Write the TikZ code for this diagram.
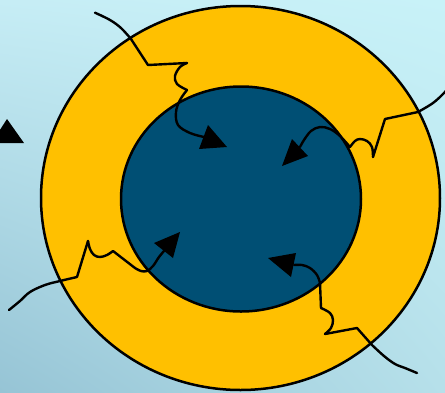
\documentclass[tikz,border=0pt]{standalone}
\usetikzlibrary{calc,shadings}
\definecolor{bgTL}{RGB}{198,237,245}
\definecolor{bgTR}{RGB}{200,242,248}
\definecolor{bgBL}{RGB}{150,196,213}
\definecolor{bgBR}{RGB}{182,224,234}
\definecolor{ringorange}{RGB}{255,192,0}
\definecolor{coreblue}{RGB}{0,79,116}
\tikzset{
  wavy/.style={line width=2.4pt, line join=round, line cap=round},
  tip/.style={fill=black, draw=none},
  rim/.style={draw=black, line width=2.5pt}
}
\begin{document}
\begin{tikzpicture}[x=1pt,y=-1pt]
\useasboundingbox (0,0) rectangle (445,392);
\shade[upper left=bgTL, upper right=bgTR, lower left=bgBL, lower right=bgBR] (0,0) rectangle (445,392);
\begin{scope}
\clip (0,0) rectangle (445,392);
% left triangle (partly cut)
\fill[black] (-8.5,143) -- (7,119) -- (24,143) -- cycle;
% rings
\path[rim, fill=ringorange] (240.5,198) ellipse [x radius=199.5pt, y radius=192pt];
\path[rim, fill=coreblue] (241,199) ellipse [x radius=120pt, y radius=112.5pt];
% line 1 (top-left)
\draw[wavy] plot[smooth, tension=0.6] coordinates {(95,12.7) (110,20) (121,28) (131,39)} -- (148,65) -- (187,63);
\draw[wavy] plot[smooth, tension=0.6] coordinates {(187,63) (180,67) (175,76) (177,84) (187,90)};
\draw[wavy] plot[smooth, tension=0.6] coordinates {(187,90) (180,100) (176,112) (178,125) (190,133) (204,137)};
\fill[tip] (227,147) -- (199,149) -- (208,125) -- cycle;
% line 2 (top-right)
\draw[wavy] plot[smooth, tension=0.6] coordinates {(448,88) (444,93) (433,103) (418,112)} -- (385,119) -- (373,157);
\draw[wavy] plot[smooth, tension=0.6] coordinates {(373,157) (372,147) (367,141) (360,139) (355,141) (350,147)};
\draw[wavy] plot[smooth, tension=0.6] coordinates {(350,147) (340,136) (330,129) (320,127) (311,131) (304,140) (300,147)};
\fill[tip] (282,166) -- (308,156) -- (292,139) -- cycle;
% line 3 (bottom-left)
\draw[wavy] plot[smooth, tension=0.6] coordinates {(9,310) (20,301) (30,292) (45,285) (60,281) (77,277)} -- (88,241);
\draw[wavy] plot[smooth, tension=0.6] coordinates {(88,241) (90,249) (94,255) (100,257) (107,255) (113,251)};
\draw[wavy] (113,251) -- (135,268);
\draw[wavy] plot[smooth, tension=0.6] coordinates {(135,268) (141,271) (147,271) (153,266) (159,257) (164,251)};
\fill[tip] (180,232) -- (154,243) -- (173,258) -- cycle;
% line 4 (bottom-right)
\draw[wavy] plot[smooth, tension=0.6] coordinates {(417,373) (405,368) (395,364) (384,356) (372,345)} -- (357,328) -- (325,334);
\draw[wavy] plot[smooth, tension=0.6] coordinates {(325,334) (331,328) (333,320) (330,313) (321,308)};
\draw[wavy] (321,308) -- (320,283);
\draw[wavy] plot[smooth, tension=0.6] coordinates {(320,283) (317,275) (310,268) (302,265) (294,265)};
\fill[tip] (268,258) -- (296,253) -- (291,277) -- cycle;
\end{scope}
\end{tikzpicture}
\end{document}
